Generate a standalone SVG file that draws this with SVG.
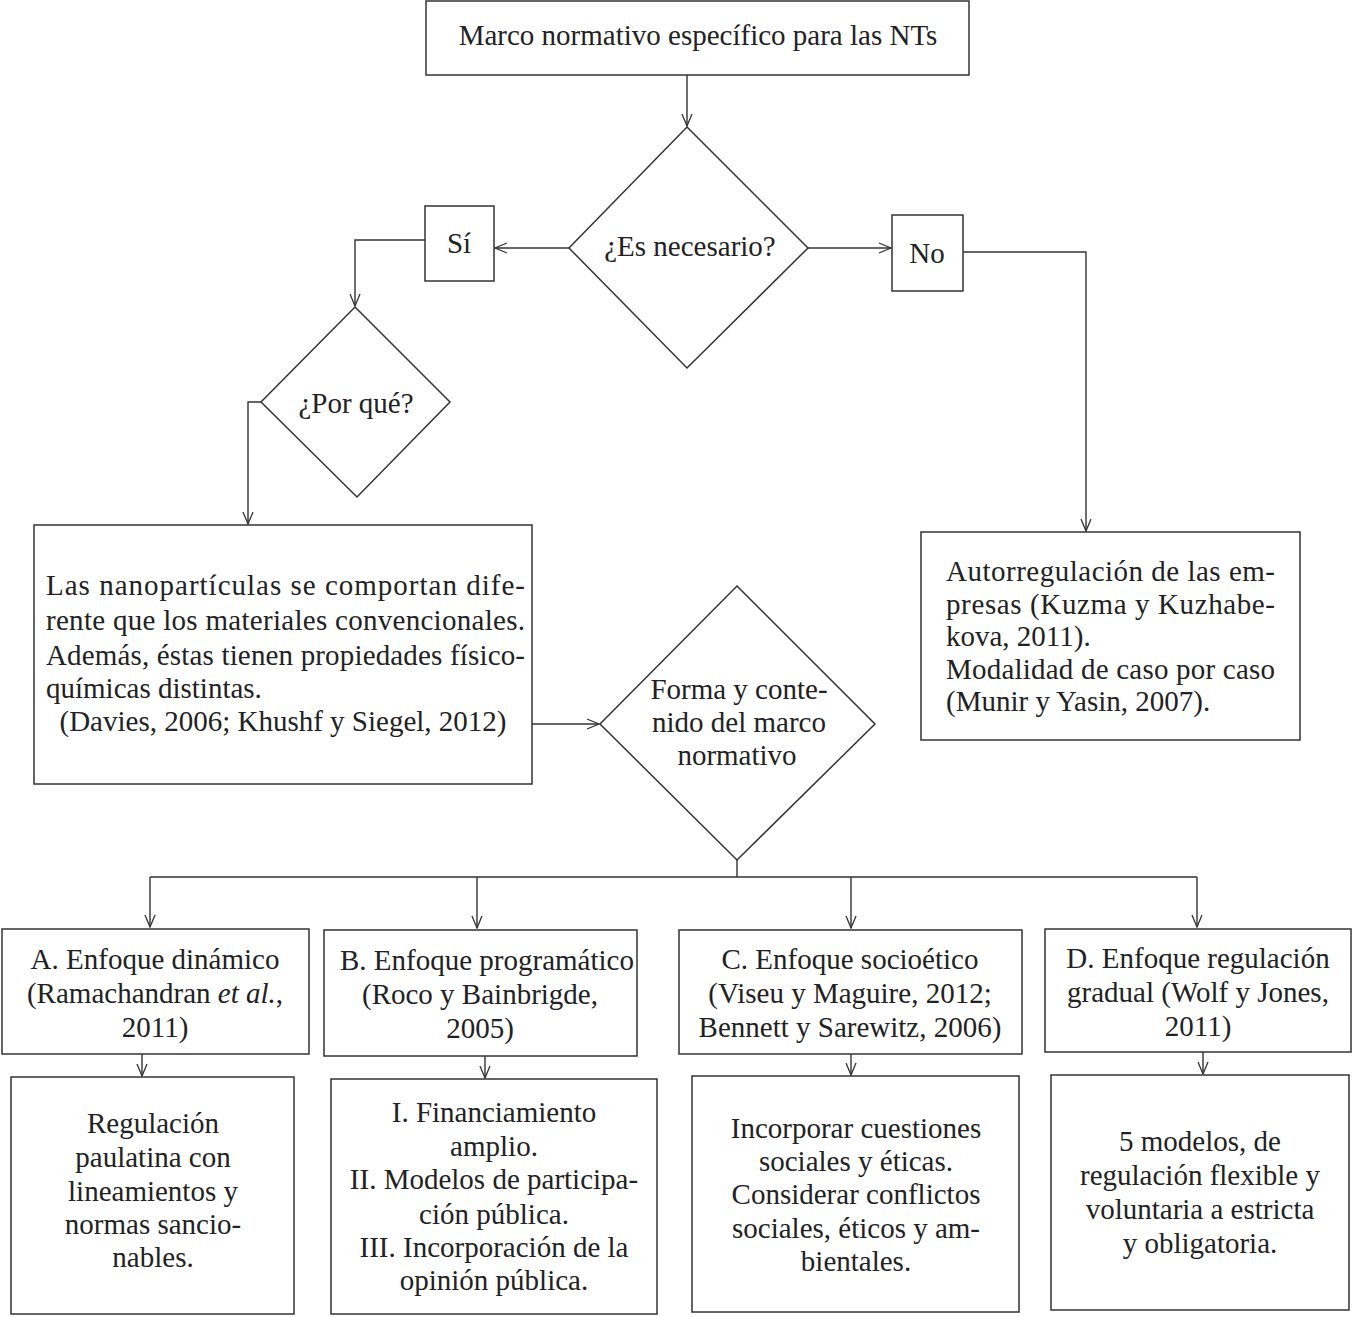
<svg xmlns="http://www.w3.org/2000/svg" width="1355" height="1317" viewBox="0 0 1355 1317">
<defs>
<marker id="ah" viewBox="0 0 14 12" refX="13" refY="6" markerWidth="14" markerHeight="12" markerUnits="userSpaceOnUse" orient="auto">
<path d="M1,1 L13,6 L1,11" fill="none" stroke="#333" stroke-width="1.3"/>
</marker>
<style>
.b{fill:#fff;stroke:#333;stroke-width:1.5}
.c{fill:none;stroke:#333;stroke-width:1.4}
.t{font-family:'Liberation Serif','DejaVu Serif',serif;font-size:29px;fill:#222}
.m{text-anchor:middle}
</style>
</defs>
<rect width="1355" height="1317" fill="#fff"/>
<g id="connectors">
<path class="c" d="M687,75 V126" marker-end="url(#ah)"/>
<path class="c" d="M569,248 H495" marker-end="url(#ah)"/>
<path class="c" d="M808,248 H891" marker-end="url(#ah)"/>
<path class="c" d="M425,240 H355 V306" marker-end="url(#ah)"/>
<path class="c" d="M261,402 H248 V524" marker-end="url(#ah)"/>
<path class="c" d="M963,252 H1086 V531" marker-end="url(#ah)"/>
<path class="c" d="M532,724 H599" marker-end="url(#ah)"/>
<path class="c" d="M737,860 V877 M150,877 H1197"/>
<path class="c" d="M150,877 V927" marker-end="url(#ah)"/>
<path class="c" d="M477,877 V928" marker-end="url(#ah)"/>
<path class="c" d="M851,877 V928" marker-end="url(#ah)"/>
<path class="c" d="M1197,877 V927" marker-end="url(#ah)"/>
<path class="c" d="M142,1054 V1076" marker-end="url(#ah)"/>
<path class="c" d="M485,1056 V1078" marker-end="url(#ah)"/>
<path class="c" d="M851,1054 V1075" marker-end="url(#ah)"/>
<path class="c" d="M1203,1052 V1074" marker-end="url(#ah)"/>
</g>
<g class="t" font-family="Liberation Serif, serif">
<g id="n-marco">
<rect class="b" x="426" y="1" width="543" height="74"/>
<text class="m" x="698" y="45">Marco normativo específico para las NTs</text>
</g>
<g id="n-necesario">
<polygon class="b" points="687,127 808,248 687,368 569,248"/>
<text class="m" x="690" y="256">¿Es necesario?</text>
</g>
<g id="n-si">
<rect class="b" x="425" y="206" width="69" height="75"/>
<text class="m" x="459" y="253">Sí</text>
</g>
<g id="n-no">
<rect class="b" x="892" y="215" width="71" height="76"/>
<text class="m" x="927" y="263">No</text>
</g>
<g id="n-porque">
<polygon class="b" points="355,307 450,402 357,497 261,402"/>
<text class="m" x="356" y="413">¿Por qué?</text>
</g>
<g id="n-nano">
<rect class="b" x="34" y="525" width="498" height="259"/>
<text x="46" y="595" textLength="479" lengthAdjust="spacing">Las nanopartículas se comportan dife-</text>
<text x="46" y="630" textLength="479" lengthAdjust="spacing">rente que los materiales convencionales.</text>
<text x="46" y="665" textLength="479" lengthAdjust="spacing">Además, éstas tienen propiedades físico-</text>
<text x="46" y="698">químicas distintas.</text>
<text class="m" x="283" y="731">(Davies, 2006; Khushf y Siegel, 2012)</text>
</g>
<g id="n-forma">
<polygon class="b" points="737,586 875,724 737,860 600,724"/>
<text class="m" x="739" y="699">Forma y conte-</text>
<text class="m" x="739" y="732">nido del marco</text>
<text class="m" x="737" y="765">normativo</text>
</g>
<g id="n-autorreg">
<rect class="b" x="921" y="532" width="379" height="208"/>
<text x="946" y="581" textLength="329" lengthAdjust="spacing">Autorregulación de las em-</text>
<text x="946" y="614" textLength="329" lengthAdjust="spacing">presas (Kuzma y Kuzhabe-</text>
<text x="946" y="646">kova, 2011).</text>
<text x="946" y="679" textLength="329" lengthAdjust="spacing">Modalidad de caso por caso</text>
<text x="946" y="711">(Munir y Yasin, 2007).</text>
</g>
<g id="n-a">
<rect class="b" x="2" y="929" width="307" height="125"/>
<text class="m" x="155" y="969">A. Enfoque dinámico</text>
<text class="m" x="155" y="1003">(Ramachandran <tspan font-style="italic">et al.</tspan>,</text>
<text class="m" x="155" y="1037">2011)</text>
</g>
<g id="n-b">
<rect class="b" x="324" y="930" width="313" height="126"/>
<text class="m" x="487" y="970">B. Enfoque programático</text>
<text class="m" x="480" y="1004">(Roco y Bainbrigde,</text>
<text class="m" x="480" y="1038">2005)</text>
</g>
<g id="n-c">
<rect class="b" x="679" y="930" width="343" height="124"/>
<text class="m" x="850" y="969">C. Enfoque socioético</text>
<text class="m" x="850" y="1003">(Viseu y Maguire, 2012;</text>
<text class="m" x="850" y="1037">Bennett y Sarewitz, 2006)</text>
</g>
<g id="n-d">
<rect class="b" x="1045" y="929" width="306" height="123"/>
<text class="m" x="1198" y="968">D. Enfoque regulación</text>
<text class="m" x="1198" y="1002">gradual (Wolf y Jones,</text>
<text class="m" x="1198" y="1036">2011)</text>
</g>
<g id="n-a2">
<rect class="b" x="11" y="1077" width="283" height="237"/>
<text class="m" x="153" y="1133">Regulación</text>
<text class="m" x="153" y="1167">paulatina con</text>
<text class="m" x="153" y="1201">lineamientos y</text>
<text class="m" x="153" y="1234">normas sancio-</text>
<text class="m" x="153" y="1267">nables.</text>
</g>
<g id="n-b2">
<rect class="b" x="331" y="1079" width="326" height="235"/>
<text class="m" x="494" y="1122">I. Financiamiento</text>
<text class="m" x="494" y="1156">amplio.</text>
<text class="m" x="494" y="1189">II. Modelos de participa-</text>
<text class="m" x="494" y="1224">ción pública.</text>
<text class="m" x="494" y="1257">III. Incorporación de la</text>
<text class="m" x="494" y="1290">opinión pública.</text>
</g>
<g id="n-c2">
<rect class="b" x="692" y="1076" width="327" height="236"/>
<text class="m" x="856" y="1138">Incorporar cuestiones</text>
<text class="m" x="856" y="1171">sociales y éticas.</text>
<text class="m" x="856" y="1204">Considerar conflictos</text>
<text class="m" x="856" y="1238">sociales, éticos y am-</text>
<text class="m" x="856" y="1271">bientales.</text>
</g>
<g id="n-d2">
<rect class="b" x="1051" y="1075" width="298" height="235"/>
<text class="m" x="1200" y="1151">5 modelos, de</text>
<text class="m" x="1200" y="1185">regulación flexible y</text>
<text class="m" x="1200" y="1219">voluntaria a estricta</text>
<text class="m" x="1200" y="1253">y obligatoria.</text>
</g>
</g>
</svg>
